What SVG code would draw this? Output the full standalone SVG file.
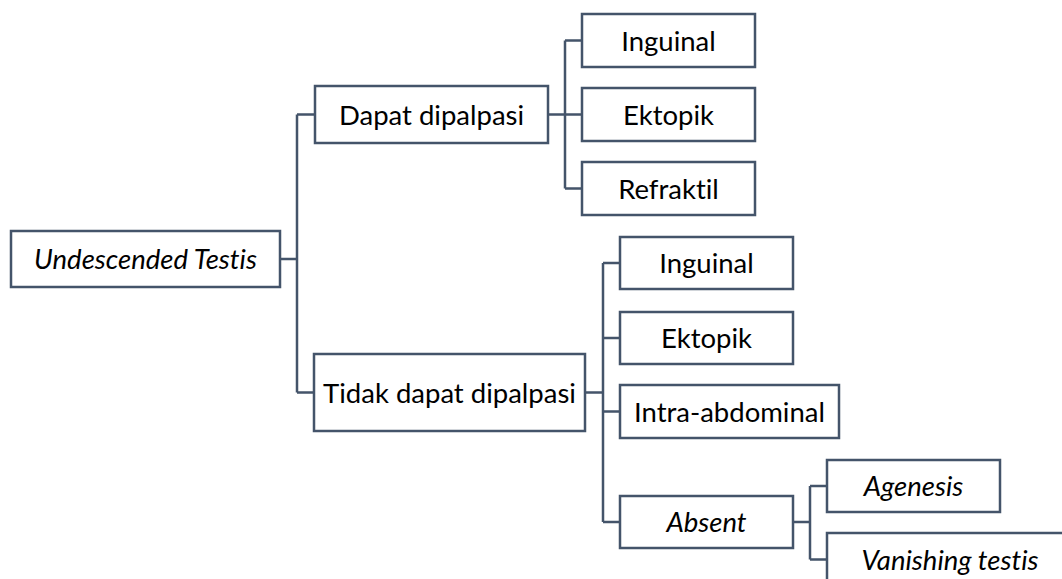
<svg xmlns="http://www.w3.org/2000/svg" width="1062" height="579" viewBox="0 0 1062 579">
  <style>
    .box { fill: #ffffff; stroke: #44546a; stroke-width: 2.5; }
    .wire { fill: none; stroke: #44546a; stroke-width: 2.5; }
    .lbl { font-family: Lato, "Liberation Sans", sans-serif; font-size: 27.5px; fill: #000000; text-anchor: middle; font-variant-ligatures: none; font-feature-settings: "liga" 0, "clig" 0; }
    .it { font-style: italic; }
  </style>
  <rect width="1062" height="579" fill="#ffffff"/>

  <!-- connectors -->
  <g id="connectors">
    <path class="wire" d="M280 259 H297 M297 114.5 V392.5 M297 114.5 H315 M297 392.5 H314"/>
    <path class="wire" d="M548 114.5 H582 M565 40.5 V188.5 M565 40.5 H582 M565 188.5 H582"/>
    <path class="wire" d="M585 392.5 H603 M603 263 V522 M603 263 H620 M603 338 H620 M603 411.5 H620 M603 522 H620"/>
    <path class="wire" d="M793 522 H810 M810 486 V559.5 M810 486 H827 M810 559.5 H827"/>
  </g>

  <!-- root -->
  <g id="undescended">
    <rect class="box" x="11" y="231" width="269" height="56"/>
    <text class="lbl it" x="145.5" y="269">Undescended Testis</text>
  </g>

  <!-- level 1 -->
  <g id="dapat">
    <rect class="box" x="315" y="86" width="233" height="57"/>
    <text class="lbl" x="431.5" y="124.5">Dapat dipalpasi</text>
  </g>
  <g id="tidak">
    <rect class="box" x="314" y="354" width="271" height="77"/>
    <text class="lbl" x="449.5" y="402.5">Tidak dapat dipalpasi</text>
  </g>

  <!-- palpable branch -->
  <g id="inguinal-1">
    <rect class="box" x="582" y="14" width="173" height="53"/>
    <text class="lbl" x="668.5" y="50.5">Inguinal</text>
  </g>
  <g id="ektopik-1">
    <rect class="box" x="582" y="88" width="173" height="53"/>
    <text class="lbl" x="668.5" y="124.5">Ektopik</text>
  </g>
  <g id="refraktil">
    <rect class="box" x="582" y="162" width="173" height="53"/>
    <text class="lbl" x="668.5" y="198.5">Refraktil</text>
  </g>

  <!-- non-palpable branch -->
  <g id="inguinal-2">
    <rect class="box" x="620" y="237" width="173" height="52"/>
    <text class="lbl" x="706.5" y="273">Inguinal</text>
  </g>
  <g id="ektopik-2">
    <rect class="box" x="620" y="312" width="173" height="52"/>
    <text class="lbl" x="706.5" y="348">Ektopik</text>
  </g>
  <g id="intra-abdominal">
    <rect class="box" x="620" y="385" width="219" height="53"/>
    <text class="lbl" x="729.5" y="421.5">Intra-abdominal</text>
  </g>
  <g id="absent">
    <rect class="box" x="620" y="496" width="173" height="52"/>
    <text class="lbl it" x="706.5" y="532">Absent</text>
  </g>

  <!-- absent branch -->
  <g id="agenesis">
    <rect class="box" x="827" y="460" width="173" height="52"/>
    <text class="lbl it" x="913.5" y="496">Agenesis</text>
  </g>
  <g id="vanishing">
    <rect class="box" x="827" y="533" width="246" height="53"/>
    <text class="lbl it" x="950" y="569.5">Vanishing testis</text>
  </g>
</svg>
